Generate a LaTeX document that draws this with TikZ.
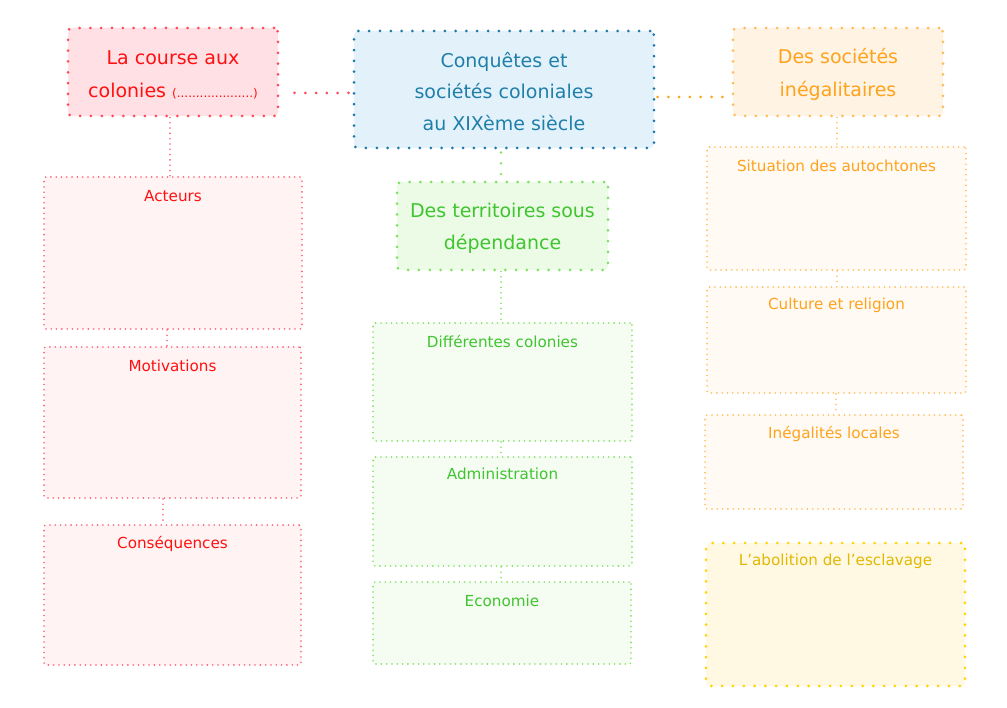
\documentclass[tikz,border=0pt]{standalone}
\usepackage{fontspec}
\setmainfont{DejaVu Sans}
\definecolor{redT}{HTML}{FF1010}
\definecolor{redB}{HTML}{FF4A5C}
\definecolor{redF}{HTML}{FFE1E5}
\definecolor{redS}{HTML}{FFF3F4}
\definecolor{redSB}{HTML}{FF6070}
\definecolor{bluT}{HTML}{1F7FAA}
\definecolor{bluB}{HTML}{1E78A6}
\definecolor{bluF}{HTML}{E3F2FA}
\definecolor{oraT}{HTML}{FFA21C}
\definecolor{oraB}{HTML}{FFBC58}
\definecolor{oraF}{HTML}{FFF3E4}
\definecolor{oraS}{HTML}{FFFAF4}
\definecolor{greT}{HTML}{40C430}
\definecolor{greB}{HTML}{80E062}
\definecolor{greF}{HTML}{EBFBE6}
\definecolor{greS}{HTML}{F5FCF2}
\definecolor{golT}{HTML}{E2B800}
\definecolor{golB}{HTML}{FFD400}
\definecolor{golF}{HTML}{FFF9E4}
\newcommand\tstrut[1]{\rule{0pt}{#1}}
\tikzset{
  thickdots/.style={line width=3pt, line cap=round, dash pattern=on 0pt off 10.8pt},
  thindots/.style={line width=1.8pt, line cap=round, dash pattern=on 0pt off 5.3pt},
  bigbox/.style={thickdots, rounded corners=4pt, align=center, inner sep=0pt,
    font=\fontsize{19}{33}\selectfont},
  smallbox/.style={thindots, rounded corners=2pt, inner sep=0pt},
  lbl/.style={anchor=center, yshift=-19.5pt, font=\fontsize{15.2}{18}\selectfont, inner sep=0pt}
}
\begin{document}
\begin{tikzpicture}[x=1pt,y=-1pt]
\useasboundingbox (0,0) rectangle (1007,708);
% main boxes
\node[bigbox, draw=redB, fill=redF, text=redT, minimum width=210pt, minimum height=88pt]
  (red) at (173,72) {\tstrut{19pt}La course aux\\colonies {\fontsize{12}{12}\selectfont(....................)}};
\node[bigbox, draw=bluB, fill=bluF, text=bluT, minimum width=300pt, minimum height=117pt,
  font=\fontsize{19}{31.5}\selectfont]
  (blue) at (504,89.5) {\tstrut{19pt}Conquêtes et\\sociétés coloniales\\au XIXème siècle};
\node[bigbox, draw=oraB, fill=oraF, text=oraT, minimum width=210pt, minimum height=88pt]
  (ora) at (838,72) {\tstrut{19pt}Des sociétés\\inégalitaires};
\node[bigbox, draw=greB, fill=greF, text=greT, minimum width=211pt, minimum height=88pt,
  font=\fontsize{19}{32}\selectfont]
  (gre) at (502.5,226) {\tstrut{19pt}Des territoires sous\\dépendance};
% left column
\node[smallbox, draw=redSB, fill=redS, minimum width=258pt, minimum height=152pt,
  label={[lbl, text=redT]north:Acteurs}] (act) at (173,253) {};
\node[smallbox, draw=redSB, fill=redS, minimum width=257pt, minimum height=151pt,
  label={[lbl, text=redT]north:Motivations}] (mot) at (172.5,422.5) {};
\node[smallbox, draw=redSB, fill=redS, minimum width=257pt, minimum height=140pt,
  label={[lbl, text=redT]north:Conséquences}] (cons) at (172.5,595) {};
% middle column
\node[smallbox, draw=greB, fill=greS, minimum width=259pt, minimum height=118pt,
  label={[lbl, text=greT]north:Différentes colonies}] (diff) at (502.5,382) {};
\node[smallbox, draw=greB, fill=greS, minimum width=259pt, minimum height=109pt,
  label={[lbl, yshift=1.5pt, text=greT]north:Administration}] (adm) at (502.5,511.5) {};
\node[smallbox, draw=greB, fill=greS, minimum width=258pt, minimum height=82pt,
  label={[lbl, text=greT]north:Economie}] (eco) at (502,623) {};
% right column
\node[smallbox, draw=oraB, fill=oraS, minimum width=259pt, minimum height=123pt,
  label={[lbl, text=oraT]north:Situation des autochtones}] (sit) at (836.5,208.5) {};
\node[smallbox, draw=oraB, fill=oraS, minimum width=259pt, minimum height=106pt,
  label={[lbl, text=oraT]north:Culture et religion}] (cul) at (836.5,340) {};
\node[smallbox, draw=oraB, fill=oraS, minimum width=258pt, minimum height=94pt,
  label={[lbl, text=oraT]north:Inégalités locales}] (ine) at (834,462) {};
\node[bigbox, draw=golB, fill=golF, minimum width=259pt, minimum height=143pt,
  label={[lbl, text=golT]north:L’abolition de l’esclavage}] (abo) at (835.5,614.5) {};
% connectors
\draw[thickdots, draw=redB, shorten <=15pt, shorten >=2pt]
  ([yshift=-21pt]red.east) -- ([yshift=-21pt]red.east -| blue.west);
\draw[thickdots, draw=oraT, shorten <=2pt, shorten >=9pt]
  ([yshift=-7.5pt]blue.east) -- ([yshift=-7.5pt]blue.east -| ora.west);
\draw[thickdots, line width=2.6pt, draw=greB, shorten <=3pt]
  ([xshift=-1.5pt]gre.north |- blue.south) -- ([xshift=-1.5pt]gre.north);
\draw[thindots, draw=redSB] ([xshift=-3pt]red.south) -- ([xshift=-3pt]red.south |- act.north);
\draw[thindots, draw=redSB] ([xshift=-6pt]act.south) -- ([xshift=-6pt]act.south |- mot.north);
\draw[thindots, draw=redSB] ([xshift=-9.5pt]mot.south) -- ([xshift=-9.5pt]mot.south |- cons.north);
\draw[thindots, draw=greB] ([xshift=-1.5pt]gre.south) -- ([xshift=-1.5pt]gre.south |- diff.north);
\draw[thindots, draw=greB] ([xshift=-1.5pt]diff.south) -- ([xshift=-1.5pt]diff.south |- adm.north);
\draw[thindots, draw=greB] ([xshift=-1.5pt]adm.south) -- ([xshift=-1.5pt]adm.south |- eco.north);
\draw[thindots, draw=oraB] ([xshift=-1pt]ora.south) -- ([xshift=-1pt]ora.south |- sit.north);
\draw[thindots, draw=oraB] ([xshift=0.5pt]sit.south) -- ([xshift=0.5pt]sit.south |- cul.north);
\draw[thindots, draw=oraB] ([xshift=-0.5pt]cul.south) -- ([xshift=-0.5pt]cul.south |- ine.north);
\end{tikzpicture}
\end{document}
